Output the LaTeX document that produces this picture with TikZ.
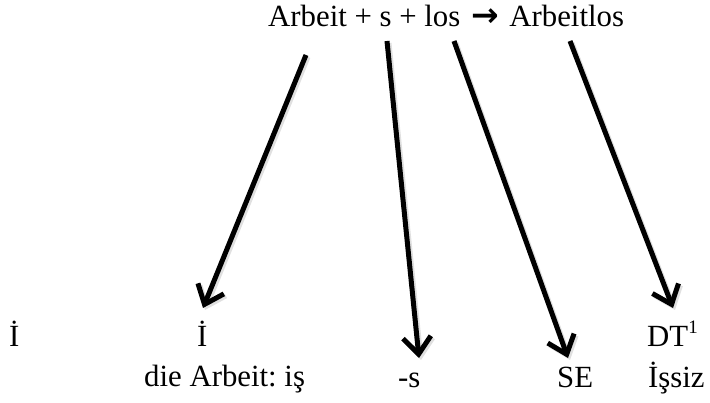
\documentclass[tikz,border=0pt]{standalone}
\usepackage{fontspec}
\setmainfont{Liberation Serif}
\newfontfamily\arrowglyph{DejaVu Sans}
\usetikzlibrary{arrows.meta}
\frenchspacing
\begin{document}
\begin{tikzpicture}[x=1pt,y=-1pt,
  lbl/.style={inner sep=0pt, anchor=base west, font=\fontsize{30.8}{36}\selectfont},
  link/.style={line width=5pt, -{Straight Barb[length=17pt,width=28pt,line width=5pt]}},
  linkshade/.style={link, draw=black, opacity=0.12}]
\useasboundingbox (0,0) rectangle (710,403);

% word formation line
\node[lbl] (formula) at (268,27) {Arbeit + s + los\hspace{3pt} {\arrowglyph\bfseries\fontsize{33}{36}\selectfont →}\hspace{3pt} Arbeitlos};

% glosses
\node[lbl] (i1) at (9,347) {İ};
\node[lbl] (i2) at (197,347) {İ};
\node[lbl] (dt) at (647,347) {DT\raisebox{0.45em}{\fontsize{19}{20}\selectfont 1}};
\node[lbl] (die) at (144,387) {die Arbeit: iş};
\node[lbl] (suffix) at (398,388) {-s};
\node[lbl] (se) at (557,388) {SE};
\node[lbl] (issiz) at (648,388) {İşsiz};

% arrow end points
\coordinate (a1) at (306,55);  \coordinate (b1) at (203,308);
\coordinate (a2) at (387,41);  \coordinate (b2) at (419,358);
\coordinate (a3) at (454,41);  \coordinate (b3) at (568,358);
\coordinate (a4) at (570,41);  \coordinate (b4) at (673,308);

% soft drop shadow under the arrows
\foreach \i in {1,...,4} {
  \draw[linkshade, transform canvas={shift={(2pt,-2pt)}}] (a\i) -- (b\i);
}
% arrows
\foreach \i in {1,...,4} {
  \draw[link] (a\i) -- (b\i);
}
\end{tikzpicture}
\end{document}
